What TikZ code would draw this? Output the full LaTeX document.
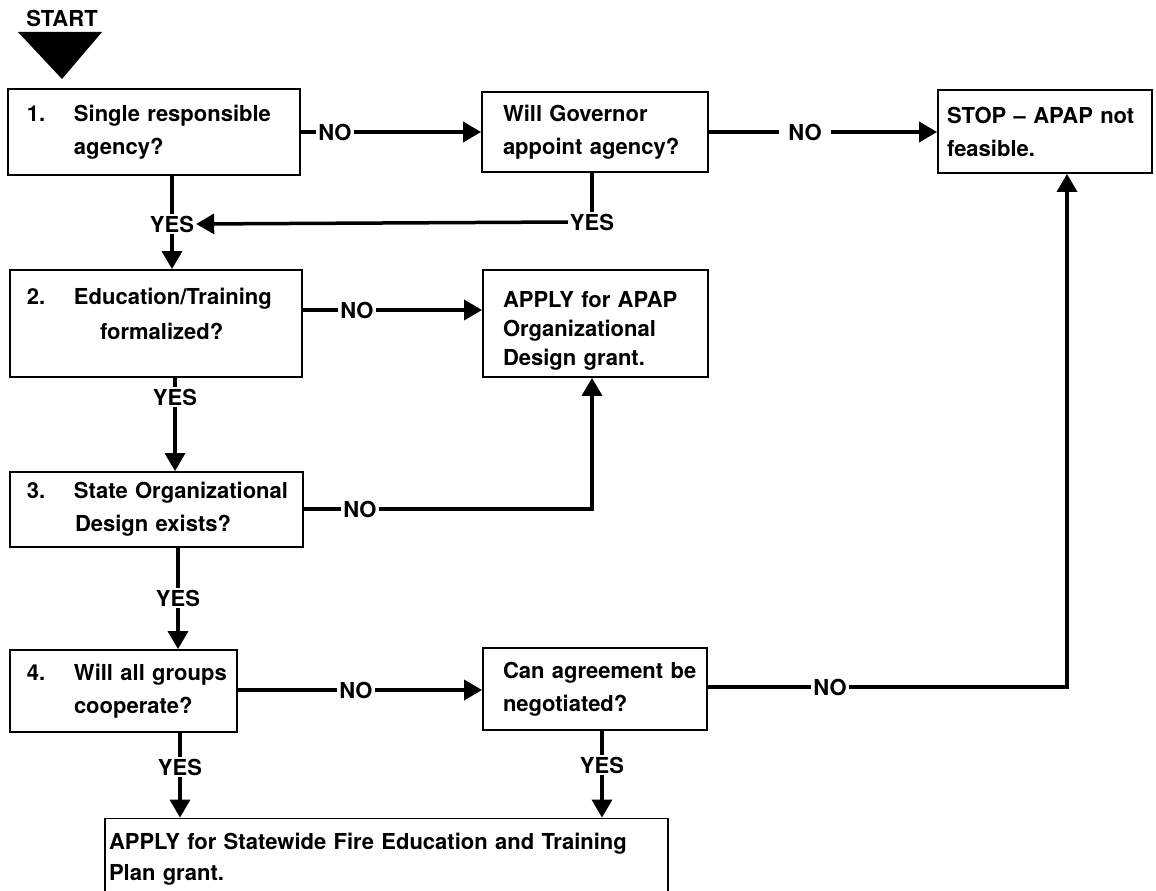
\documentclass[tikz,border=0pt]{standalone}
\usepackage{fontspec}
\setmainfont{TeX Gyre Heros}
\usetikzlibrary{arrows.meta}
\newcommand{\itemnum}[1]{\makebox[47pt][l]{#1}}
\begin{document}
\begin{tikzpicture}[x=1pt,y=-1pt,
  bx/.style={draw, line width=1.8pt, rectangle, inner sep=0pt, align=left,
    font=\bfseries\fontsize{22}{33}\selectfont},
  lbl/.style={font=\bfseries\fontsize{22}{22}\selectfont, inner sep=2pt},
  con/.style={line width=3.5pt},
  arr/.style={con, -{Triangle[length=18pt,width=20pt]}}]
\useasboundingbox (0,0) rectangle (1156,891);
\clip (0,0) rectangle (1156,891);
\fill[white] (0,0) rectangle (1156,891);

% start marker
\node[lbl] (start) at (62,18) {START};
\fill (18,32) -- (102,32) -- (62,79) -- cycle;

% boxes
\node[bx, minimum width=292pt, minimum height=86pt, text width=284pt] (b1) at (154,132)
  {\hspace*{15pt}\itemnum{1.}Single responsible\\\hspace*{62pt}agency?};
\node[bx, minimum width=226pt, minimum height=80pt, text width=218pt] (gov) at (595,132)
  {\hspace*{17pt}Will Governor\\\hspace*{17pt}appoint agency?};
\node[bx, minimum width=214pt, minimum height=83pt, text width=206pt] (stop) at (1045,131.5)
  {\hspace*{5pt}STOP -- APAP not\\\hspace*{5pt}feasible.};
\node[bx, minimum width=292pt, minimum height=107pt, text width=284pt,
  font=\bfseries\fontsize{22}{35}\selectfont] (b2) at (156,323.5)
  {\hspace*{13pt}\itemnum{2.}Education/Training\\\hspace*{86pt}formalized?\\[-16pt]\mbox{}};
\node[bx, minimum width=225pt, minimum height=107pt, text width=217pt,
  font=\bfseries\fontsize{22}{29}\selectfont] (apap) at (595.5,323.5)
  {\mbox{}\\[2pt]\hspace*{16pt}APPLY for APAP\\\hspace*{16pt}Organizational\\\hspace*{16pt}Design grant.};
\node[bx, minimum width=293pt, minimum height=75pt, text width=285pt] (b3) at (156.5,509.5)
  {\hspace*{13pt}\itemnum{3.}State Organizational\\\hspace*{61pt}Design exists?};
\node[bx, minimum width=227pt, minimum height=82pt, text width=219pt] (b4) at (123.5,691)
  {\hspace*{13pt}\itemnum{4.}Will all groups\\\hspace*{60pt}cooperate?};
\node[bx, minimum width=224pt, minimum height=82pt, text width=216pt] (agree) at (595,689)
  {\hspace*{16pt}Can agreement be\\\hspace*{16pt}negotiated?};
\node[bx, minimum width=563pt, minimum height=81pt, text width=555pt,
  font=\bfseries\fontsize{22}{31}\selectfont] (final) at (386.5,859)
  {APPLY for Statewide Fire Education and Training\\Plan grant.};

% labels
\node[lbl] (no1) at (335,132) {NO};
\node[lbl, inner xsep=9pt] (no2) at (805,132) {NO};
\node[lbl] (yesg) at (592,222) {YES};
\node[lbl] (yes1) at (172,224) {YES};
\node[lbl] (no3) at (357,310) {NO};
\node[lbl] (yes2) at (175,397) {YES};
\node[lbl] (no4) at (360,509) {NO};
\node[lbl] (yes3) at (178,598) {YES};
\node[lbl] (no5) at (356,690) {NO};
\node[lbl] (no6) at (830,687) {NO};
\node[lbl] (yes4) at (180,767) {YES};
\node[lbl] (yes5) at (602,765) {YES};

\coordinate (c3) at (592,509);
\coordinate (c6) at (1067,687);

% connectors
\draw[con] (b1.east |- no1) -- (no1.west);
\draw[arr] (no1.east) -- (gov.west |- no1);
\draw[con] (gov.east |- no2) -- (no2.west);
\draw[arr] (no2.east) -- (stop.west |- no2);
\draw[con] (gov.south -| yesg) -- (yesg.north);
\draw[arr] (yesg.west) -- (yes1.east);
\draw[con] (b1.south -| yes1) -- (yes1.north);
\draw[arr] (yes1.south) -- (b2.north -| yes1);
\draw[con] (b2.east |- no3) -- (no3.west);
\draw[arr] (no3.east) -- (apap.west |- no3);
\draw[con] (b2.south -| yes2) -- (yes2.north);
\draw[arr] (yes2.south) -- (b3.north -| yes2);
\draw[con] (b3.east |- no4) -- (no4.west);
\draw[arr] (no4.east) -| (apap.south -| c3);
\draw[con] (b3.south -| yes3) -- (yes3.north);
\draw[arr] (yes3.south) -- (b4.north -| yes3);
\draw[con] (b4.east |- no5) -- (no5.west);
\draw[arr] (no5.east) -- (agree.west |- no5);
\draw[con] (agree.east |- no6) -- (no6.west);
\draw[arr] (no6.east) -| (stop.south -| c6);
\draw[con] (b4.south -| yes4) -- (yes4.north);
\draw[arr] (yes4.south) -- (final.north -| yes4);
\draw[con] (agree.south -| yes5) -- (yes5.north);
\draw[arr] (yes5.south) -- (final.north -| yes5);
\end{tikzpicture}
\end{document}
